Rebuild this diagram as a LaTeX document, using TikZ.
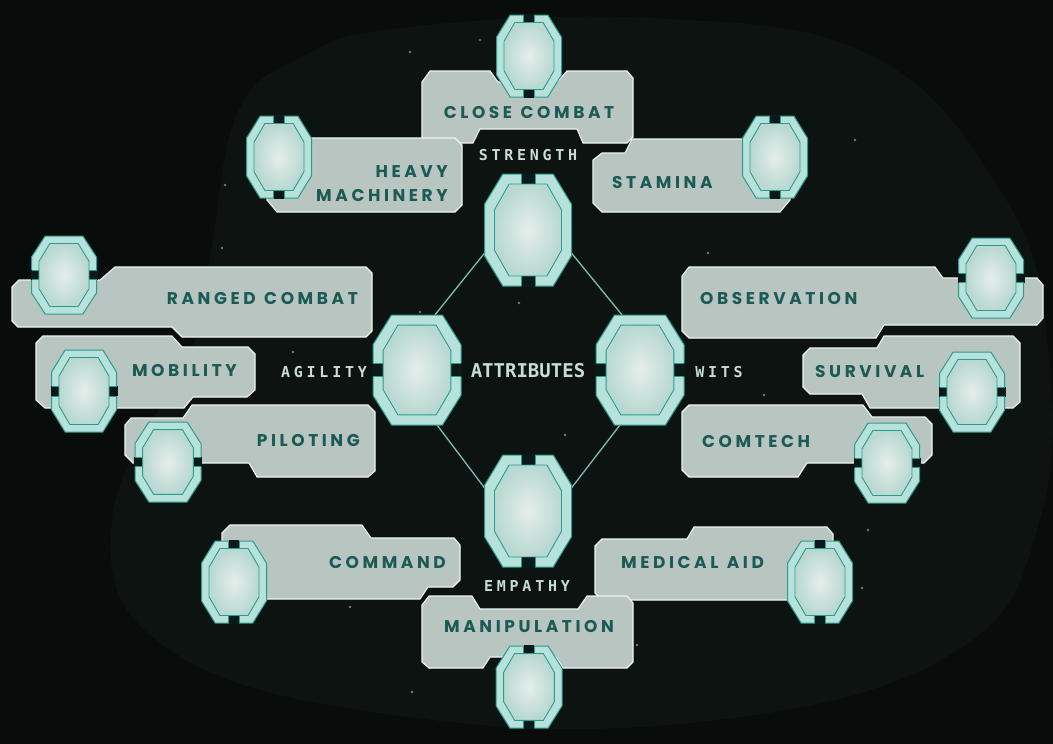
\documentclass[tikz,border=0pt]{standalone}
\usepackage{fontspec}
\newfontfamily\skillfont{Poppins}[LetterSpace=21]
\newfontfamily\pixfont{DejaVu Sans Mono}[LetterSpace=25]
\newfontfamily\pixfontB{DejaVu Sans Mono}
\newcommand\gap{\hspace{8.5pt}}
\definecolor{bgC}{HTML}{080C0B}
\definecolor{blobC}{HTML}{0C1311}
\definecolor{panelC}{HTML}{B9C5C1}
\definecolor{panelEdge}{HTML}{EEF4F2}
\definecolor{skillText}{HTML}{1B5A55}
\definecolor{frameC}{HTML}{B6E2DB}
\definecolor{tealC}{HTML}{2A9C8D}
\definecolor{innerC}{HTML}{E6EEEB}
\definecolor{innerEdge}{HTML}{B8D8D1}
\definecolor{attrText}{HTML}{C8DDD8}
\definecolor{lineC}{HTML}{7FBDB4}
\definecolor{notchC}{HTML}{0B1A18}
\definecolor{dotC}{HTML}{6F7C78}
\tikzset{
 panel/.style={fill=panelC, draw=panelEdge, line width=1.1pt, line join=miter},
 skill/.style={font={\skillfont\bfseries\fontsize{17}{24}\selectfont}, text=skillText, inner sep=0pt},
 attr/.style={font={\pixfont\bfseries\fontsize{15}{15}\selectfont}, text=attrText, inner sep=0pt},
 bigattr/.style={font={\pixfontB\bfseries\fontsize{19}{19}\selectfont}, text=attrText, inner sep=0pt},
 badgebox/.style={rectangle, inner sep=0pt, outer sep=0pt},
 link/.style={draw=lineC, line width=1.3pt},
 frame/.style={fill=frameC, draw=tealC, line width=1pt},
 innerO/.style={inner color=innerC, outer color=innerEdge, draw=tealC, line width=0.9pt},
 star/.style={fill=dotC}
}
% #1 name, #2 x, #3 y, #4 width, #5 height, #6 orientation (0 notches top/bottom, 1 notches sides)
\newcommand\badge[6]{%
 \node[badgebox, minimum width=#4pt, minimum height=#5pt] (#1) at (#2,#3) {};
 \pgfmathsetmacro\hw{#4/2}\pgfmathsetmacro\hh{#5/2}
 \pgfmathsetmacro\cx{0.21*#4}\pgfmathsetmacro\cy{0.27*#5}
 \pgfmathsetmacro\th{0.115*#4}
 \pgfmathsetmacro\iw{\hw-\th}\pgfmathsetmacro\ih{\hh-\th}
 \pgfmathsetmacro\icx{\cx*0.8}\pgfmathsetmacro\icy{\cy*0.85}
 \pgfmathsetmacro\nw{0.08*#4}\pgfmathsetmacro\nh{0.06*#5}
 \begin{scope}[shift={(#1.center)}]
  \path[frame] (-\hw+\cx,-\hh) -- (\hw-\cx,-\hh) -- (\hw,-\hh+\cy) -- (\hw,\hh-\cy) -- (\hw-\cx,\hh) -- (-\hw+\cx,\hh) -- (-\hw,\hh-\cy) -- (-\hw,-\hh+\cy) -- cycle;
  \ifnum#6=0
   \fill[notchC] (-\nw,-\hh-1) rectangle (\nw,-\ih);
   \fill[notchC] (-\nw,\hh+1) rectangle (\nw,\ih);
   \draw[tealC, line width=0.8pt] (-\nw,-\hh) -- (-\nw,-\ih) (\nw,-\hh) -- (\nw,-\ih) (-\nw,\hh) -- (-\nw,\ih) (\nw,\hh) -- (\nw,\ih);
  \else
   \fill[notchC] (-\hw-1,-\nh) rectangle (-\iw,\nh);
   \fill[notchC] (\hw+1,-\nh) rectangle (\iw,\nh);
   \draw[tealC, line width=0.8pt] (-\hw,-\nh) -- (-\iw,-\nh) (-\hw,\nh) -- (-\iw,\nh) (\hw,-\nh) -- (\iw,-\nh) (\hw,\nh) -- (\iw,\nh);
  \fi
  \path[innerO] (-\iw+\icx,-\ih) -- (\iw-\icx,-\ih) -- (\iw,-\ih+\icy) -- (\iw,\ih-\icy) -- (\iw-\icx,\ih) -- (-\iw+\icx,\ih) -- (-\iw,\ih-\icy) -- (-\iw,-\ih+\icy) -- cycle;
 \end{scope}}
\begin{document}
\begin{tikzpicture}[x=1pt,y=-1pt]
\useasboundingbox (0,0) rectangle (1053,744);
\fill[bgC] (0,0) rectangle (1053,744);
\fill[blobC] plot[smooth cycle, tension=0.7] coordinates {(400,28) (650,18) (870,55) (1000,190) (1046,330) (1040,520) (950,655) (700,722) (400,716) (170,650) (112,520) (195,340) (212,245) (238,112) (300,58)};
% stars
\foreach \p in {(410,52),(225,185),(222,248),(855,140),(708,253),(519,303),(565,435),(764,395),(293,352),(862,588),(637,645),(350,607),(430,668),(412,692),(868,530),(480,40),(420,312)}
 \fill[star] \p circle (1.3);
% panels
\path[panel] (422,82)--(430,71)--(490,71)--(498,82)--(557,82)--(567,71)--(627,71)--(633,78)--(633,137)--(627,143)--(583,143)--(577,129)--(480,129)--(473,143)--(428,143)--(422,137)--cycle;
\path[panel] (267,145)--(274,138)--(455,138)--(462,145)--(462,205)--(455,212)--(277,212)--(267,200)--cycle;
\path[panel] (593,160)--(602,153)--(625,153)--(632,139)--(790,139)--(790,200)--(780,212)--(602,212)--(593,203)--cycle;
\path[panel] (12,287)--(19,280)--(100,280)--(115,267)--(366,267)--(372,273)--(372,331)--(366,337)--(182,337)--(172,327)--(18,327)--(12,321)--cycle;
\path[panel] (36,343)--(43,336)--(172,336)--(182,347)--(248,347)--(255,354)--(255,390)--(247,397)--(193,397)--(184,408)--(45,408)--(36,400)--cycle;
\path[panel] (125,425)--(131,418)--(183,418)--(192,405)--(368,405)--(375,412)--(375,471)--(368,477)--(257,477)--(249,463)--(133,463)--(125,455)--cycle;
\path[panel] (682,276)--(689,267)--(935,267)--(943,278)--(1037,278)--(1043,285)--(1043,318)--(1037,325)--(884,325)--(876,338)--(689,338)--(682,331)--cycle;
\path[panel] (803,355)--(810,348)--(877,348)--(884,336)--(1013,336)--(1020,343)--(1020,402)--(1013,408)--(870,408)--(862,394)--(810,394)--(803,387)--cycle;
\path[panel] (682,412)--(689,405)--(863,405)--(872,417)--(925,417)--(932,424)--(932,455)--(924,463)--(807,463)--(798,477)--(689,477)--(682,470)--cycle;
\path[panel] (222,533)--(230,525)--(362,525)--(371,538)--(454,538)--(460,545)--(460,580)--(453,587)--(428,587)--(420,599)--(240,599)--(222,590)--cycle;
\path[panel] (595,546)--(602,539)--(687,539)--(694,527)--(827,527)--(833,534)--(833,590)--(820,600)--(602,600)--(595,593)--cycle;
\path[panel] (422,605)--(429,596)--(472,596)--(480,609)--(578,609)--(587,596)--(627,596)--(633,603)--(633,662)--(627,668)--(563,668)--(556,657)--(490,657)--(483,668)--(429,668)--(422,662)--cycle;
% attribute badge nodes (invisible boxes) and links
\node[badgebox, minimum width=87pt, minimum height=112pt] (str) at (528,230) {};
\node[badgebox, minimum width=88pt, minimum height=110pt] (agi) at (417,370) {};
\node[badgebox, minimum width=88pt, minimum height=110pt] (wit) at (640,370) {};
\node[badgebox, minimum width=87pt, minimum height=112pt] (emp) at (528,511) {};
\path[link] (str.208) -- (agi.72);
\path[link] (str.332) -- (wit.108);
\path[link] (agi.290) -- (emp.152);
\path[link] (wit.250) -- (emp.28);
% badges
\badge{strB}{528}{230}{87}{112}{0}
\badge{agiB}{417}{370}{88}{110}{1}
\badge{witB}{640}{370}{88}{110}{1}
\badge{empB}{528}{511}{87}{112}{0}
\badge{cc}{529}{56}{65}{82}{0}
\badge{hm}{279}{157}{65}{82}{0}
\badge{st}{775}{157}{65}{82}{0}
\badge{rc}{64}{275}{65}{78}{1}
\badge{mob}{84}{391}{65}{82}{1}
\badge{pil}{168}{462}{66}{80}{1}
\badge{obs}{991}{278}{65}{80}{1}
\badge{sur}{972}{392}{65}{80}{1}
\badge{com}{887}{463}{65}{80}{1}
\badge{cmd}{234}{582}{65}{82}{0}
\badge{med}{820}{582}{65}{82}{0}
\badge{man}{529}{687}{66}{82}{0}
% skill labels
\node[skill] (tcc) at (529,113) {CLOSE\gap COMBAT};
\node[skill, anchor=east, align=right] (thm) at (448,184) {HEAVY\\MACHINERY};
\node[skill, anchor=west] (tst) at (612,183) {STAMINA};
\node[skill, anchor=east] (trc) at (358,299) {RANGED\gap COMBAT};
\node[skill, anchor=east] (tmob) at (237,371) {MOBILITY};
\node[skill, anchor=east] (tpil) at (360,441) {PILOTING};
\node[skill, anchor=west] (tobs) at (700,299) {OBSERVATION};
\node[skill, anchor=west] (tsur) at (815,372) {SURVIVAL};
\node[skill, anchor=west] (tcom) at (702,442) {COMTECH};
\node[skill, anchor=east] (tcmd) at (446,563) {COMMAND};
\node[skill, anchor=west] (tmed) at (621,563) {MEDICAL\gap AID};
\node[skill] (tman) at (529,627) {MANIPULATION};
% attribute labels
\node[attr] (lstr) at (528,155) {STRENGTH};
\node[attr] (lagi) at (324,372) {AGILITY};
\node[attr] (lwit) at (719,372) {WITS};
\node[attr] (lemp) at (527,586) {EMPATHY};
\node[bigattr] (lattr) at (528,371) {ATTRIBUTES};
\end{tikzpicture}
\end{document}
